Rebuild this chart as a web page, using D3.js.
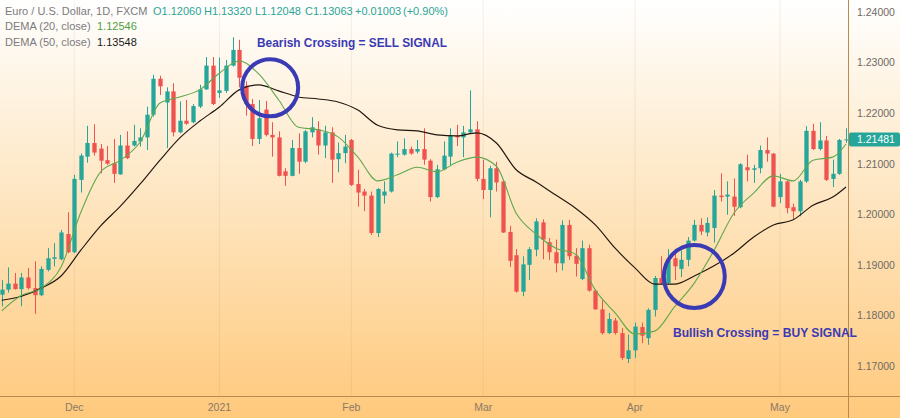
<!DOCTYPE html>
<html>
<head>
<meta charset="utf-8">
<script src="https://cdn.jsdelivr.net/npm/d3@7"></script>
<style>
  body { margin: 0; background: #fff; }
  #chart { width: 900px; height: 418px; }
  text { font-family: "Liberation Sans", Arial, sans-serif; }
</style>
</head>
<body>
<div id="chart"></div>
<script>
// EUR/USD daily candles, 16 Nov 2020 -> 17 May 2021
const startDay = "2020-11-16";
const holidays = ["2020-12-25", "2021-01-01"];

const open = [
  1.1841,1.1851,1.1863,1.1852,1.1875,1.1854,1.1840,1.1890,1.1912,1.1911,
  1.1961,1.1925,1.2068,1.2114,1.2141,1.2130,1.2107,1.2101,1.2079,1.2136,
  1.2136,1.2144,1.2152,1.2197,1.2268,1.2221,1.2243,1.2162,1.2185,1.2182,
  1.2213,1.2247,1.2294,1.2240,1.2244,1.2294,1.2325,1.2254,1.2218,1.2149,
  1.2207,1.2157,1.2152,1.2085,1.2076,1.2131,1.2104,1.2162,1.2168,1.2136,
  1.2162,1.2109,1.2121,1.2147,1.2060,1.2045,1.2037,1.1963,1.2037,1.2045,
  1.2118,1.2118,1.2129,1.2124,1.2129,1.2106,1.2034,1.2089,1.2114,1.2155,
  1.2152,1.2162,1.2168,1.2070,1.2048,1.2091,1.2065,1.1965,1.1919,1.1847,
  1.1900,1.1930,1.1984,1.1945,1.1925,1.1903,1.1979,1.1918,1.1872,1.1933,
  1.1849,1.1812,1.1765,1.1790,1.1765,1.1714,1.1731,1.1777,1.1755,1.1811,
  1.1874,1.1864,1.1913,1.1892,1.1910,1.1948,1.1979,1.1964,1.1973,1.2037,
  1.2035,1.2035,1.2014,1.2093,1.2088,1.2091,1.2127,1.2120,1.2034,1.2065,
  1.2014,1.2006,1.2065,1.2165,1.2129,1.2146,1.2070,1.2080,1.2146
];
const high = [
  1.1870,1.1895,1.1884,1.1884,1.1894,1.1907,1.1897,1.1933,1.1943,1.1969,
  1.2004,1.2078,1.2120,1.2175,1.2178,1.2139,1.2135,1.2149,1.2157,1.2164,
  1.2177,1.2170,1.2213,1.2276,1.2274,1.2251,1.2259,1.2223,1.2226,1.2218,
  1.2256,1.2311,1.2311,1.2310,1.2305,1.2350,1.2345,1.2263,1.2228,1.2226,
  1.2224,1.2182,1.2164,1.2091,1.2147,1.2160,1.2167,1.2192,1.2184,1.2175,
  1.2172,1.2142,1.2157,1.2149,1.2088,1.2050,1.2045,1.2052,1.2065,1.2122,
  1.2144,1.2150,1.2134,1.2147,1.2170,1.2109,1.2098,1.2144,1.2170,1.2177,
  1.2175,1.2245,1.2184,1.2108,1.2096,1.2104,1.2068,1.1977,1.1931,1.1917,
  1.1935,1.1992,1.1990,1.1953,1.1950,1.1988,1.1989,1.1933,1.1948,1.1940,
  1.1852,1.1830,1.1805,1.1795,1.1775,1.1762,1.1786,1.1786,1.1814,1.1878,
  1.1917,1.1931,1.1923,1.1928,1.1955,1.1989,1.1992,1.1994,1.2048,1.2081,
  1.2065,1.2071,1.2101,1.2118,1.2098,1.2136,1.2152,1.2121,1.2080,1.2067,
  1.2021,1.2068,1.2174,1.2179,1.2182,1.2155,1.2108,1.2149,1.2170
];
const low = [
  1.1818,1.1845,1.1851,1.1818,1.1851,1.1803,1.1838,1.1887,1.1897,1.1909,
  1.1923,1.1923,1.2043,1.2102,1.2116,1.2081,1.2098,1.2062,1.2078,1.2109,
  1.2134,1.2134,1.2127,1.2193,1.2236,1.2131,1.2154,1.2160,1.2177,1.2180,
  1.2210,1.2246,1.2216,1.2230,1.2240,1.2292,1.2251,1.2195,1.2135,1.2139,
  1.2154,1.2114,1.2075,1.2056,1.2075,1.2080,1.2101,1.2152,1.2118,1.2111,
  1.2062,1.2083,1.2101,1.2056,1.2015,1.2006,1.1959,1.1955,1.2021,1.2043,
  1.2113,1.2116,1.2118,1.2120,1.2098,1.2025,1.2032,1.2087,1.2096,1.2135,
  1.2113,1.2159,1.2065,1.2030,1.1994,1.2045,1.1963,1.1896,1.1845,1.1838,
  1.1870,1.1917,1.1911,1.1910,1.1885,1.1889,1.1910,1.1877,1.1870,1.1847,
  1.1811,1.1762,1.1763,1.1762,1.1712,1.1706,1.1716,1.1745,1.1742,1.1798,
  1.1861,1.1861,1.1870,1.1876,1.1897,1.1946,1.1959,1.1956,1.1944,1.2025,
  1.1999,1.1997,1.2012,1.2065,1.2062,1.2081,1.2104,1.2014,1.2022,1.2002,
  1.1990,1.1996,1.2062,1.2127,1.2126,1.2066,1.2054,1.2078,1.2141
];
const close = [
  1.1851,1.1863,1.1852,1.1875,1.1854,1.1840,1.1892,1.1913,1.1915,1.1964,
  1.1925,1.2070,1.2116,1.2141,1.2122,1.2106,1.2100,1.2080,1.2136,1.2111,
  1.2145,1.2152,1.2197,1.2268,1.2253,1.2243,1.2162,1.2185,1.2179,1.2214,
  1.2247,1.2294,1.2218,1.2245,1.2294,1.2325,1.2270,1.2218,1.2149,1.2190,
  1.2157,1.2152,1.2076,1.2076,1.2131,1.2104,1.2164,1.2172,1.2136,1.2162,
  1.2108,1.2121,1.2134,1.2058,1.2043,1.2037,1.1963,1.2050,1.2045,1.2120,
  1.2120,1.2129,1.2120,1.2129,1.2108,1.2034,1.2089,1.2116,1.2155,1.2152,
  1.2162,1.2168,1.2070,1.2048,1.2091,1.2063,1.1964,1.1908,1.1847,1.1901,
  1.1931,1.1986,1.1950,1.1925,1.1903,1.1979,1.1917,1.1902,1.1933,1.1849,
  1.1812,1.1765,1.1793,1.1765,1.1716,1.1731,1.1778,1.1760,1.1811,1.1874,
  1.1864,1.1909,1.1897,1.1910,1.1948,1.1979,1.1966,1.1983,1.2037,1.2034,
  1.2039,1.2015,1.2099,1.2087,1.2091,1.2127,1.2120,1.2015,1.2065,1.2012,
  1.2006,1.2065,1.2165,1.2129,1.2146,1.2068,1.2080,1.2147,1.2148
];

// DEMA lines, read every few candles (candle index -> value)
const demaIndex = [0,3,6,9,12,15,18,21,24,27,30,33,36,39,42,45,48,51,54,57,60,63,
  66,69,72,75,78,81,84,87,90,93,96,99,102,105,108,111,114,117,120,123,126,128];
const dema20 = [1.1809,1.1840,1.1854,1.1896,1.2004,1.2084,1.2107,1.2143,1.2220,1.2232,
  1.2246,1.2279,1.2303,1.2277,1.2226,1.2172,1.2167,1.2153,1.2113,1.2066,1.2078,1.2093,
  1.2084,1.2103,1.2113,1.2095,1.2002,1.1961,1.1933,1.1921,1.1850,1.1805,1.1763,1.1769,
  1.1817,1.1864,1.1929,1.2002,1.2042,1.2076,1.2066,1.2107,1.2113,1.2139];
const dema50 = [1.1830,1.1838,1.1854,1.1878,1.1929,1.1977,1.2016,1.2060,1.2107,1.2151,
  1.2184,1.2212,1.2246,1.2256,1.2244,1.2232,1.2228,1.2222,1.2206,1.2176,1.2167,1.2165,
  1.2157,1.2155,1.2161,1.2141,1.2088,1.2064,1.2038,1.2012,1.1979,1.1933,1.1894,1.1862,
  1.1862,1.1878,1.1898,1.1923,1.1955,1.1979,1.1989,1.2018,1.2034,1.2054];

const priceTicks = [1.17, 1.18, 1.19, 1.20, 1.21, 1.22, 1.23, 1.24];
const lastPrice = 1.21481;

// trading days (weekdays, minus the two holidays)
const parseDay = d3.timeParse("%Y-%m-%d");
const fmtDay = d3.timeFormat("%Y-%m-%d");
let days = [];
let day = parseDay(startDay);
while (days.length < close.length) {
    if (day.getDay() !== 0 && day.getDay() !== 6 && !holidays.includes(fmtDay(day))) {
        days.push(fmtDay(day));
    }
    day = d3.timeDay.offset(day, 1);
}

const candles = days.map(function(d, i) {
    return {date: d, open: open[i], high: high[i], low: low[i], close: close[i]};
});

const width = 900;
const height = 418;
const plotRight = 848;
const plotBottom = 396;

const svg = d3.select("#chart")
    .append("svg")
    .attr("width", width)
    .attr("height", height);

const defs = svg.append("defs");
const grad = defs.append("linearGradient")
    .attr("id", "bg")
    .attr("x1", 0).attr("y1", 0).attr("x2", 0).attr("y2", 1);
grad.append("stop").attr("offset", "0%").attr("stop-color", "#ffffff");
grad.append("stop").attr("offset", "45%").attr("stop-color", "#fee7c4");
grad.append("stop").attr("offset", "100%").attr("stop-color", "#ffc97c");

defs.append("clipPath").attr("id", "plot")
    .append("rect")
    .attr("x", 0).attr("y", 0)
    .attr("width", plotRight).attr("height", plotBottom);

svg.append("rect")
    .attr("width", width)
    .attr("height", height)
    .attr("fill", "url(#bg)");

// scales
const xScale = d3.scaleBand()
    .domain(days)
    .range([-1.6, 849.3])
    .paddingInner(0.35)
    .paddingOuter(0.175);

const bw = xScale.bandwidth();
const xMid = function(d) { return xScale(d) + bw / 2; };

const yScale = d3.scaleLinear()
    .domain([1.17, 1.24])
    .range([366, 12]);

// first trading day of each month
const monthStarts = days.filter(function(d, i) {
    return i > 0 && d.slice(5, 7) !== days[i - 1].slice(5, 7);
});

// vertical grid
svg.append("g")
    .selectAll("line")
    .data(monthStarts)
    .enter()
    .append("line")
        .attr("x1", function(d) { return xMid(d); })
        .attr("x2", function(d) { return xMid(d); })
        .attr("y1", 0)
        .attr("y2", plotBottom)
        .attr("stroke", "rgba(150,110,60,0.10)");

const plot = svg.append("g").attr("clip-path", "url(#plot)");

// candles
const upColor = "#26a69a";
const downColor = "#ef5350";
const color = function(d) { return d.close >= d.open ? upColor : downColor; };

plot.selectAll(".wick")
    .data(candles)
    .enter()
    .append("line")
        .attr("class", "wick")
        .attr("x1", function(d) { return Math.round(xMid(d.date)) + 0.5; })
        .attr("x2", function(d) { return Math.round(xMid(d.date)) + 0.5; })
        .attr("y1", function(d) { return yScale(d.high); })
        .attr("y2", function(d) { return yScale(d.low); })
        .attr("stroke", color)
        .attr("stroke-width", 1);

plot.selectAll(".body")
    .data(candles)
    .enter()
    .append("rect")
        .attr("class", "body")
        .attr("x", function(d) { return Math.round(xMid(d.date)) + 0.5 - bw / 2; })
        .attr("y", function(d) { return yScale(Math.max(d.open, d.close)); })
        .attr("width", bw)
        .attr("height", function(d) {
            return Math.max(1, Math.abs(yScale(d.open) - yScale(d.close)));
        })
        .attr("fill", color);

// DEMA lines
const demaLine = function(values) {
    return d3.line()
        .x(function(d, i) { return xMid(days[demaIndex[i]]); })
        .y(function(d) { return yScale(d); })
        .curve(d3.curveMonotoneX)(values);
};

plot.append("path")
    .attr("d", demaLine(dema50))
    .attr("fill", "none")
    .attr("stroke", "#21170f")
    .attr("stroke-width", 1.15);

plot.append("path")
    .attr("d", demaLine(dema20))
    .attr("fill", "none")
    .attr("stroke", "#62a84f")
    .attr("stroke-width", 1.1);

// axes
const yAxis = svg.append("g")
    .attr("transform", `translate(${plotRight},0)`)
    .call(d3.axisRight(yScale)
        .tickValues(priceTicks)
        .tickFormat(d3.format(".5f"))
        .tickSize(0)
        .tickPadding(9));
yAxis.select(".domain").remove();
yAxis.selectAll("text")
    .attr("fill", "#6f6a64")
    .style("font-size", "10.5px");

const monthFmt = d3.timeFormat("%b");
const xAxis = svg.append("g")
    .attr("transform", `translate(0,${plotBottom})`)
    .call(d3.axisBottom(xScale)
        .tickValues(monthStarts)
        .tickFormat(function(d) {
            const dt = parseDay(d);
            return dt.getMonth() === 0 ? String(dt.getFullYear()) : monthFmt(dt);
        })
        .tickSize(0)
        .tickPadding(8));
xAxis.select(".domain").remove();
xAxis.selectAll("text")
    .attr("fill", "#8a7a66")
    .style("font-size", "10.5px");

svg.append("line")
    .attr("x1", 0).attr("x2", width)
    .attr("y1", plotBottom + 0.5).attr("y2", plotBottom + 0.5)
    .attr("stroke", "#b98a4e");
svg.append("line")
    .attr("x1", plotRight + 0.5).attr("x2", plotRight + 0.5)
    .attr("y1", 0).attr("y2", height)
    .attr("stroke", "#b98a4e");

// last price label
svg.append("rect")
    .attr("x", plotRight + 1)
    .attr("y", yScale(lastPrice) - 7)
    .attr("width", 51)
    .attr("height", 14)
    .attr("rx", 2)
    .attr("fill", upColor);
svg.append("text")
    .attr("x", plotRight + 9)
    .attr("y", yScale(lastPrice) + 4)
    .attr("fill", "#ffffff")
    .style("font-size", "10.5px")
    .text(d3.format(".5f")(lastPrice));

// legend
const legend = svg.append("g").style("font-size", "11px");
legend.append("text").attr("x", 5).attr("y", 15).attr("fill", "#7b7b80")
    .text("Euro / U.S. Dollar, 1D, FXCM");
const ohlc = [["O1.12060", 153], ["H1.13320", 204], ["L1.12048", 255],
              ["C1.13063", 305], ["+0.01003", 355], ["(+0.90%)", 403]];
legend.selectAll(".ohlc")
    .data(ohlc)
    .enter()
    .append("text")
        .attr("class", "ohlc")
        .attr("x", function(d) { return d[1]; })
        .attr("y", 15)
        .attr("fill", "#2aa596")
        .text(function(d) { return d[0]; });
legend.append("text").attr("x", 5).attr("y", 30).attr("fill", "#7b7b80")
    .text("DEMA (20, close)");
legend.append("text").attr("x", 97).attr("y", 30).attr("fill", "#4f9e45")
    .text("1.12546");
legend.append("text").attr("x", 5).attr("y", 46).attr("fill", "#7b7b80")
    .text("DEMA (50, close)");
legend.append("text").attr("x", 97).attr("y", 46).attr("fill", "#1a1a1a")
    .text("1.13548");

// crossing annotations
const noteColor = "#3a3ab4";
const crossings = [
    {index: 40.7, price: 1.2250, rx: 28, ry: 28.5},
    {index: 105, price: 1.1877, rx: 30.5, ry: 31.5}
];
const indexX = d3.scaleLinear().domain([0, days.length - 1])
    .range([xMid(days[0]), xMid(days[days.length - 1])]);

svg.selectAll(".ring")
    .data(crossings)
    .enter()
    .append("ellipse")
        .attr("class", "ring")
        .attr("cx", function(d) { return indexX(d.index); })
        .attr("cy", function(d) { return yScale(d.price); })
        .attr("rx", function(d) { return d.rx; })
        .attr("ry", function(d) { return d.ry; })
        .attr("fill", "none")
        .attr("stroke", noteColor)
        .attr("stroke-width", 4);

svg.append("text")
    .attr("x", 257).attr("y", 47)
    .attr("fill", noteColor)
    .attr("font-weight", "bold")
    .attr("textLength", 190)
    .attr("lengthAdjust", "spacingAndGlyphs")
    .style("font-size", "12.5px")
    .text("Bearish Crossing = SELL SIGNAL");

svg.append("text")
    .attr("x", 673).attr("y", 337)
    .attr("fill", noteColor)
    .attr("font-weight", "bold")
    .attr("textLength", 184)
    .attr("lengthAdjust", "spacingAndGlyphs")
    .style("font-size", "12.5px")
    .text("Bullish Crossing = BUY SIGNAL");
</script>
</body>
</html>
